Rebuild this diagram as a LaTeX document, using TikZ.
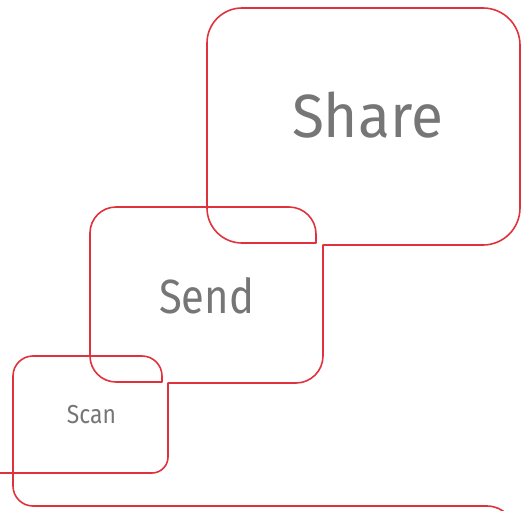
\documentclass[tikz,border=0pt]{standalone}
\usepackage{fontspec}
\setmainfont{Fira Sans}
\definecolor{brandred}{RGB}{224,50,60}
\definecolor{labelgray}{RGB}{118,118,118}
\begin{document}
\begin{tikzpicture}[x=1pt,y=-1pt,
  outline/.style={draw=brandred,line width=1.6pt,line join=round},
  label/.style={text=labelgray,inner sep=0pt,anchor=base}]
\useasboundingbox (0,0) rectangle (525,511);
\clip (0,0) rectangle (525,511);
\draw[outline]
  (0,473) -- (152,473) arc[start angle=90,end angle=0,radius=16]
  -- (168,383) -- (296,383) arc[start angle=90,end angle=0,radius=27]
  -- (323,245) -- (483,245) arc[start angle=90,end angle=0,radius=37]
  -- (520,45) arc[start angle=0,end angle=-90,radius=37]
  -- (242,8) arc[start angle=-90,end angle=-180,radius=35]
  -- (207,208) arc[start angle=180,end angle=90,radius=35]
  -- (316,243) -- (316,234) arc[start angle=0,end angle=-90,radius=27]
  -- (116,207) arc[start angle=-90,end angle=-180,radius=26]
  -- (90,356) arc[start angle=180,end angle=90,radius=26]
  -- (162,382) -- (162,376) arc[start angle=0,end angle=-90,radius=20]
  -- (33,356) arc[start angle=-90,end angle=-180,radius=20]
  -- (13,486) arc[start angle=180,end angle=90,radius=20]
  -- (487,506) arc[start angle=-90,end angle=0,radius=28] -- (515,560);
\node[label,font={\addfontfeature{FakeStretch=0.96}\fontsize{61}{61}\selectfont}] (share) at (367.5,137) {Share};
\node[label,font={\addfontfeature{FakeStretch=0.87}\fontsize{48}{48}\selectfont}] (send) at (206.5,313) {Send};
\node[label,font={\addfontfeature{FakeStretch=0.88}\fontsize{26}{26}\selectfont}] (scan) at (91.5,423) {Scan};
\end{tikzpicture}
\end{document}
